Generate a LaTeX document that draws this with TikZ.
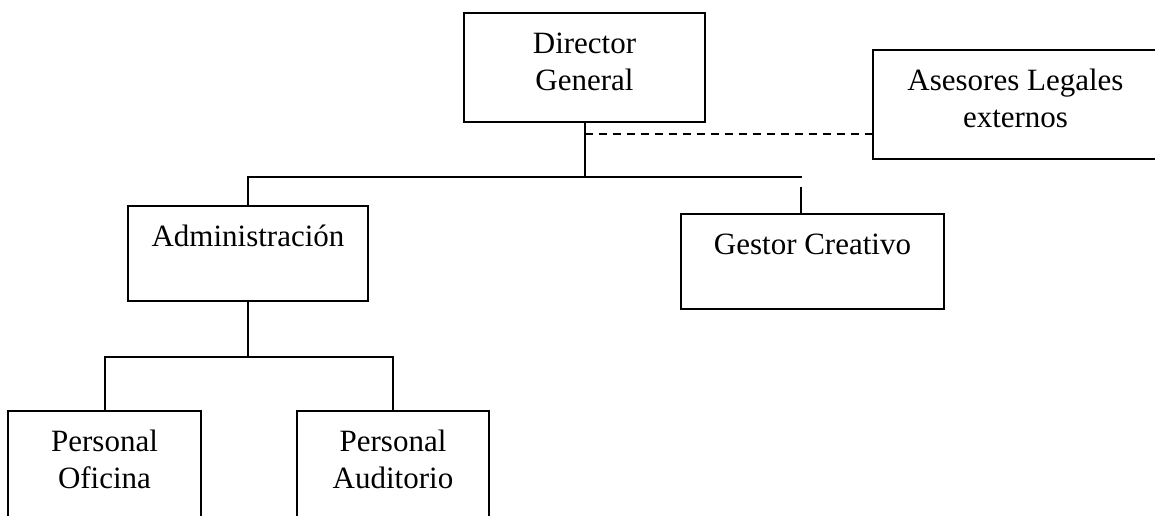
\documentclass[tikz,border=0pt]{standalone}
\usepackage{fontspec}
\setmainfont{Liberation Serif}
\usetikzlibrary{positioning,calc}

% box text: width, height, lines (set from the top of the box)
\newcommand{\boxtxt}[3]{\parbox[c][#2][t]{#1}{\centering\vspace*{15pt}\strut #3}}

\begin{document}
\begin{tikzpicture}[x=1pt,y=-1pt,line width=2pt,
    orgbox/.style={draw,inner sep=0pt,font=\fontsize{31}{36.5}\selectfont},
    advice/.style={dash pattern=on 8pt off 6pt}]
    \useasboundingbox (0,0) rectangle (1155,516);
    \clip (0,0) rectangle (1155,516);

    % Boxes
    \node[orgbox] (dir) at (584.5,67.5) {\boxtxt{241pt}{109pt}{Director\\General}};
    \node[orgbox] (ase) at (1015.5,104.5) {\boxtxt{285pt}{109pt}{Asesores Legales\\externos}};
    \node[orgbox] (adm) at (248,253.5) {\boxtxt{240pt}{95pt}{Administración}};
    \node[orgbox] (ges) at (812.5,261.5) {\boxtxt{263pt}{95pt}{Gestor Creativo}};
    \node[orgbox] (ofi) at (104.5,471) {\boxtxt{193pt}{120pt}{Personal\\Oficina}};
    \node[orgbox] (aud) at (393,471) {\boxtxt{192pt}{120pt}{Personal\\Auditorio}};

    % Lines from the director
    \draw (dir.south) -- ++(0,55) coordinate (j1);
    \coordinate (h1) at (802,177);
    \draw (adm.north) |- (h1);
    \coordinate (g1) at (801,187);
    \draw (g1) -- (g1 |- ges.north);
    \draw[advice] ($(dir.south)+(0,11)$) coordinate (d1) -- (d1 -| ase.west);

    % Lines under administration
    \draw (adm.south) -- ++(0,55) coordinate (j2);
    \draw (ofi.north) |- (j2) -| (aud.north);
\end{tikzpicture}
\end{document}
